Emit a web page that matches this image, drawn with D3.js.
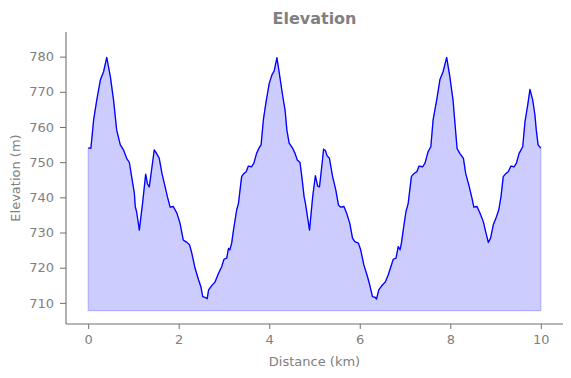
<!DOCTYPE html>
<html>
<head>
<meta charset="utf-8">
<script src="https://cdn.jsdelivr.net/npm/d3@7.9.0/dist/d3.min.js"></script>
<style>
  body { margin: 0; background: #fff; }
  svg { display: block; font-family: "DejaVu Sans", sans-serif; }
</style>
</head>
<body>
<svg id="chart"></svg>
<script>
// Data
const distanceKm = [
  0.00, 0.06, 0.12, 0.19, 0.27, 0.34, 0.41, 0.49, 0.56, 0.63, 0.71, 0.78, 0.85, 0.91, 0.96,
  1.02, 1.04, 1.07, 1.13, 1.21, 1.27, 1.31, 1.35, 1.41, 1.46, 1.52, 1.57, 1.63, 1.70, 1.75,
  1.81, 1.88, 1.96, 2.03, 2.10, 2.18, 2.24, 2.29, 2.36, 2.44, 2.49, 2.53, 2.58, 2.63, 2.66,
  2.73, 2.80, 2.88, 2.95, 3.00, 3.06, 3.10, 3.13, 3.17, 3.21, 3.28, 3.32, 3.39, 3.44, 3.49,
  3.54, 3.61, 3.66, 3.72, 3.77, 3.82, 3.87, 3.93, 4.00, 4.06, 4.11, 4.17, 4.24, 4.30, 4.35,
  4.39, 4.44, 4.52, 4.57, 4.62, 4.68, 4.72, 4.77, 4.80, 4.89, 4.96, 5.02, 5.07, 5.11, 5.16,
  5.20, 5.24, 5.28, 5.33, 5.40, 5.47, 5.53, 5.58, 5.65, 5.71, 5.78, 5.84, 5.89, 5.97, 6.02,
  6.09, 6.17, 6.23, 6.28, 6.34, 6.37, 6.42, 6.48, 6.56, 6.63, 6.74, 6.80, 6.85, 6.89, 6.92,
  6.96, 7.02, 7.07, 7.14, 7.20, 7.26, 7.31, 7.39, 7.44, 7.51, 7.57, 7.62, 7.70, 7.77, 7.84,
  7.92, 7.99, 8.06, 8.15, 8.21, 8.29, 8.34, 8.42, 8.48, 8.52, 8.59, 8.65, 8.73, 8.78, 8.84,
  8.89, 8.95, 9.01, 9.07, 9.12, 9.17, 9.23, 9.28, 9.34, 9.41, 9.46, 9.52, 9.60, 9.65, 9.71,
  9.76, 9.82, 9.87, 9.90, 9.94, 10.00
];
const elevationM = [
  754.0, 754.0, 762.0, 767.7, 773.4, 775.7, 779.8, 774.3, 767.7, 759.1, 754.9, 753.5, 751.1, 749.9, 745.9,
  741.2, 737.4, 735.9, 730.7, 739.3, 746.6, 743.8, 743.0, 748.7, 753.5, 752.3, 751.1, 746.8, 743.0, 740.2,
  737.2, 737.4, 735.5, 732.6, 727.9, 727.2, 726.5, 724.1, 719.9, 716.5, 714.6, 711.8, 711.6, 711.2, 713.7,
  714.9, 715.9, 718.4, 720.3, 722.4, 722.7, 725.5, 725.1, 727.0, 730.7, 736.4, 738.3, 745.9, 746.8, 747.3,
  748.9, 748.7, 749.7, 752.5, 753.9, 754.9, 762.0, 767.2, 772.4, 774.8, 776.0, 779.7, 773.8, 768.6, 764.8,
  759.1, 755.4, 753.9, 752.5, 750.6, 749.9, 745.9, 740.2, 738.3, 730.7, 740.2, 746.2, 743.2, 743.0, 748.7,
  753.7, 753.3, 751.8, 751.1, 745.9, 742.1, 737.8, 737.2, 737.4, 735.5, 732.6, 728.4, 727.4, 727.0, 725.1,
  720.8, 717.5, 714.6, 711.8, 711.6, 711.1, 713.7, 714.8, 715.9, 718.0, 722.4, 722.7, 726.0, 725.1, 727.0,
  730.7, 735.9, 738.3, 745.9, 746.8, 747.3, 748.9, 748.7, 749.7, 753.0, 754.4, 762.0, 767.7, 773.4, 775.7,
  779.8, 774.3, 767.7, 753.9, 752.5, 751.1, 746.8, 743.0, 739.7, 737.2, 737.4, 735.7, 733.1, 730.3, 727.2,
  728.4, 732.2, 734.1, 736.4, 740.2, 745.9, 746.8, 747.3, 748.9, 748.7, 749.7, 752.5, 754.4, 761.5, 766.2,
  770.7, 767.7, 763.4, 759.1, 754.9, 754.0
];
const baseElevation = 707.8;
const xTicks = [0, 2, 4, 6, 8, 10];
const yTicks = [710, 720, 730, 740, 750, 760, 770, 780];

const W = 571, H = 378;
const margin = { top: 32, right: 8, bottom: 54, left: 66 };
const width = W - margin.left - margin.right;
const height = H - margin.top - margin.bottom;

const svg = d3.select("#chart").attr("width", W).attr("height", H);
const g = svg.append("g").attr("transform", `translate(${margin.left},${margin.top})`);

const x = d3.scaleLinear().domain([-0.49, 10.49]).range([0, width]);
const y = d3.scaleLinear().domain([704.0, 787.0]).range([height, 0]);

const points = distanceKm.map((d, i) => ({ d, e: elevationM[i] }));

// filled area
g.append("path")
  .datum(points)
  .attr("fill", "rgb(204,204,255)")
  .attr("stroke", "rgba(0,0,255,0.2)")
  .attr("stroke-width", 1.2)
  .attr("d", d3.area().x(p => x(p.d)).y0(y(baseElevation)).y1(p => y(p.e)));

// profile line
g.append("path")
  .datum(points)
  .attr("fill", "none")
  .attr("stroke", "#0000ff")
  .attr("stroke-width", 1.3)
  .attr("stroke-linejoin", "round")
  .attr("d", d3.line().x(p => x(p.d)).y(p => y(p.e)));

// axes
const xAxis = g.append("g")
  .attr("transform", `translate(0,${height})`)
  .call(d3.axisBottom(x).tickValues(xTicks).tickSize(5).tickPadding(6).tickSizeOuter(0));
const yAxis = g.append("g")
  .call(d3.axisLeft(y).tickValues(yTicks).tickSize(6).tickPadding(6).tickSizeOuter(0));

[xAxis, yAxis].forEach(a => {
  a.select(".domain").attr("stroke", "#707070").attr("stroke-width", 1.1);
  a.selectAll(".tick line").attr("stroke", "#707070").attr("stroke-width", 1);
  a.selectAll(".tick text").attr("fill", "#808080").style("font-size", "13px").style("font-family", "DejaVu Sans");
});
// extend spines to full plot area
xAxis.select(".domain").attr("d", `M0,0H${width}`);
yAxis.select(".domain").attr("d", `M0,0V${height}`);

// title & labels
svg.append("text")
  .attr("x", margin.left + width / 2).attr("y", 24)
  .attr("text-anchor", "middle")
  .attr("fill", "#808080")
  .style("font-size", "16px").style("font-weight", "bold")
  .text("Elevation");

svg.append("text")
  .attr("x", margin.left + width / 2).attr("y", 366)
  .attr("text-anchor", "middle")
  .attr("fill", "#808080")
  .style("font-size", "13px")
  .text("Distance (km)");

svg.append("text")
  .attr("transform", `translate(20,${margin.top + height / 2}) rotate(-90)`)
  .attr("text-anchor", "middle")
  .attr("fill", "#808080")
  .style("font-size", "13px")
  .text("Elevation (m)");
</script>
</body>
</html>
